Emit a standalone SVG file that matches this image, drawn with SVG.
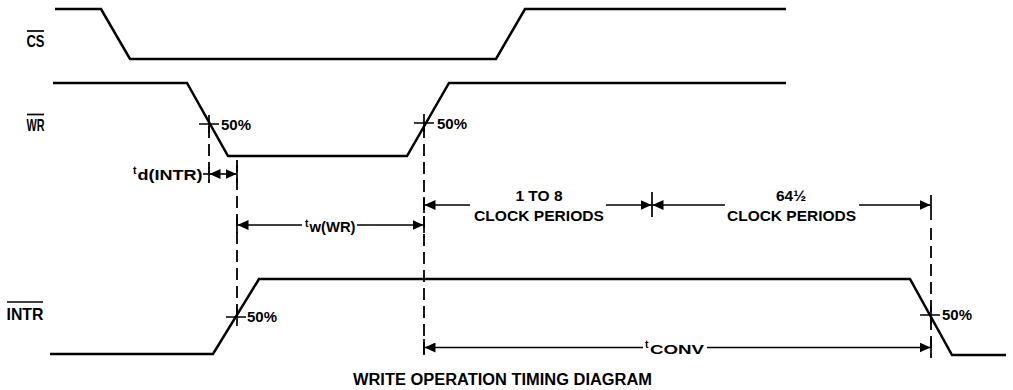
<svg xmlns="http://www.w3.org/2000/svg" width="1013" height="390" viewBox="0 0 1013 390">
<defs>
<style>
.sig{fill:none;stroke:#000;stroke-width:2.5;stroke-linejoin:miter}
.dash{fill:none;stroke:#000;stroke-width:1.8;stroke-dasharray:12 6}
.tick{fill:none;stroke:#000;stroke-width:1.7}
.dim{fill:none;stroke:#000;stroke-width:1.6}
.arr{fill:none;stroke:#000;stroke-width:1.6;marker-end:url(#ah)}
text{font-family:"Liberation Sans",Arial,Helvetica,sans-serif;font-weight:bold;fill:#000}
.lbl{font-size:16.5px}
.pct{font-size:15px}
.dimt{font-size:15.5px}
.sm{font-size:10.5px}
</style>
<marker id="ah" markerUnits="userSpaceOnUse" markerWidth="11" markerHeight="10" refX="11" refY="5" orient="auto">
<path d="M0,0 L11,5 L0,10 z" fill="#000"/>
</marker>
</defs>
<rect width="1013" height="390" fill="#fff"/>

<g id="cs">
<polyline class="sig" points="55,9 101,9 130,59 496,59 525,9 786,9"/>
<text class="lbl" x="26.5" y="47" textLength="18" lengthAdjust="spacingAndGlyphs">CS</text>
<line class="tick" x1="27" y1="31" x2="44" y2="31"/>
</g>

<g id="wr">
<polyline class="sig" points="53,83 187,83 228,156 407,156 449,83 786,83"/>
<text class="lbl" x="26.5" y="130.5" textLength="18" lengthAdjust="spacingAndGlyphs">WR</text>
<line class="tick" x1="27" y1="114.5" x2="44" y2="114.5"/>
<path class="tick" d="M199,124 H219 M209,115 V133"/>
<text class="pct" x="221" y="129.5">50%</text>
<path class="tick" d="M414,123 H434 M424,114 V132"/>
<text class="pct" x="437" y="128.5">50%</text>
</g>

<g id="intr">
<polyline class="sig" points="50,354 213,354 259,279 910,279 952,355 1006,355"/>
<text class="lbl" x="6.5" y="320" font-size="15" textLength="37" lengthAdjust="spacingAndGlyphs">INTR</text>
<line class="tick" x1="7" y1="302" x2="43" y2="302"/>
<path class="tick" d="M226,317 H246 M237,308 V326"/>
<text class="pct" x="247" y="322">50%</text>
<path class="tick" d="M920,315 H940 M931,306 V324"/>
<text class="pct" x="942" y="320">50%</text>
</g>

<g id="connectors">
<line class="dash" x1="209" y1="126" x2="209" y2="183"/>
<line class="dash" x1="237" y1="160" x2="237" y2="317"/>
<line class="dash" x1="424" y1="126" x2="424" y2="356"/>
<line class="dash" x1="931" y1="228" x2="931" y2="358"/>
<path class="tick" d="M209,167 V181 M237,165 V183 M237,217 V233 M424,197 V213 M424,217 V233 M424,339 V355 M652,192 V217 M931,195 V220 M931,339 V355"/>

<line class="dim" x1="203" y1="174" x2="209" y2="174"/>
<line class="arr" x1="223" y1="174" x2="209.5" y2="174"/>
<line class="arr" x1="223" y1="174" x2="236.5" y2="174"/>

<line class="arr" x1="302" y1="225" x2="237.5" y2="225"/>
<line class="arr" x1="357" y1="225" x2="423.5" y2="225"/>

<line class="arr" x1="470" y1="205" x2="424.5" y2="205"/>
<line class="arr" x1="606" y1="205" x2="651.5" y2="205"/>
<line class="arr" x1="725" y1="205" x2="652.5" y2="205"/>
<line class="arr" x1="859" y1="205" x2="930.5" y2="205"/>

<line class="arr" x1="643" y1="347.5" x2="424.5" y2="347.5"/>
<line class="arr" x1="707" y1="347.5" x2="930.5" y2="347.5"/>
</g>

<g id="labels">
<text x="133" y="174" class="sm">t</text>
<text x="137.5" y="180" font-size="14.5" textLength="65" lengthAdjust="spacingAndGlyphs">d(INTR)</text>

<text x="305" y="226.5" class="sm">t</text>
<text x="309.5" y="232" font-size="14.5" textLength="46" lengthAdjust="spacingAndGlyphs">w(WR)</text>

<text x="645" y="348" class="sm">t</text>
<text x="650" y="354" font-size="13" textLength="54" lengthAdjust="spacingAndGlyphs">CONV</text>

<text class="dimt" x="539" y="201" text-anchor="middle">1 TO 8</text>
<text class="dimt" x="474" y="221" textLength="130" lengthAdjust="spacingAndGlyphs">CLOCK PERIODS</text>
<text class="dimt" x="791" y="200.5" text-anchor="middle">64½</text>
<text class="dimt" x="727" y="220.5" textLength="129" lengthAdjust="spacingAndGlyphs">CLOCK PERIODS</text>

<text x="353" y="385" font-size="16" textLength="299" lengthAdjust="spacingAndGlyphs">WRITE OPERATION TIMING DIAGRAM</text>
</g>
</svg>
